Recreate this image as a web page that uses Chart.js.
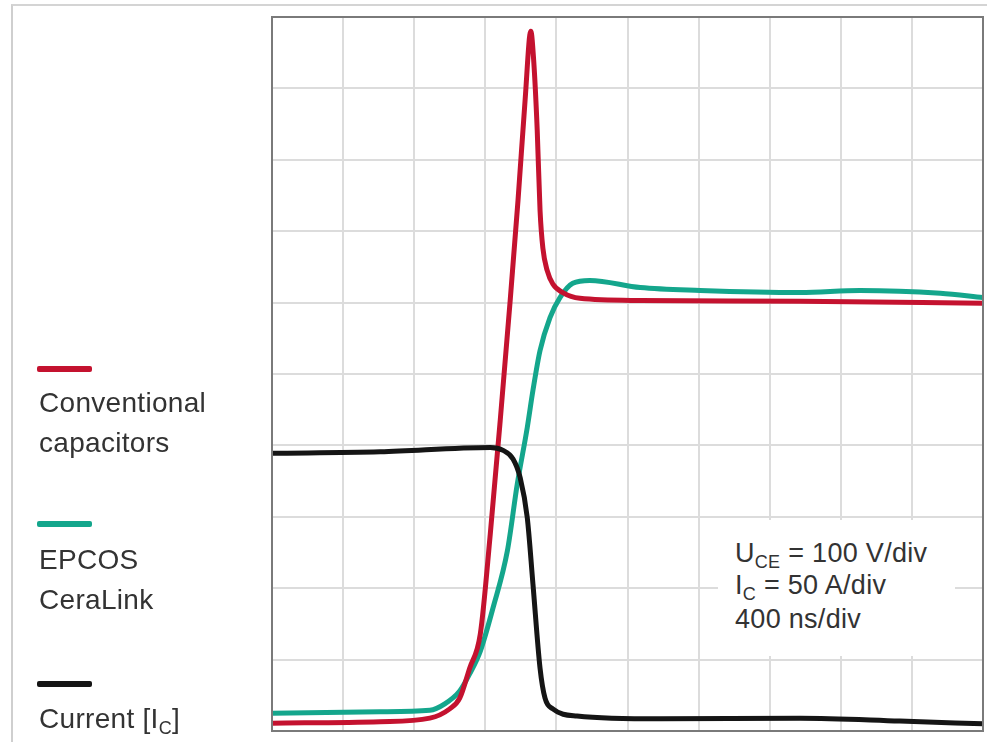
<!DOCTYPE html>
<html>
<head>
<meta charset="utf-8">
<script src="https://cdn.jsdelivr.net/npm/chart.js@4.4.0/dist/chart.umd.min.js"></script>
<style>
  html, body { margin: 0; padding: 0; background: #fff; }
  #wrap { position: relative; width: 987px; height: 742px; overflow: hidden;
          font-family: "Liberation Sans", Arial, sans-serif; color: #333; }
  #frame { position: absolute; left: 11px; top: 4px; width: 976px; height: 738px;
           border-top: 2px solid #d4d4d4; border-left: 2px solid #cfcfcf; }
  canvas { position: absolute; left: 0; top: 0; }
  .sw { position: absolute; left: 37px; width: 55px; height: 6px; border-radius: 2px; }
  .lbl { position: absolute; left: 39px; font-size: 28px; letter-spacing: 0.3px; line-height: 40px; white-space: nowrap; }
  #note { position: absolute; left: 718px; top: 520px; width: 237px; height: 136px; background: #fff; }
  #note div { position: absolute; left: 17px; font-size: 27px; letter-spacing: 0.3px; white-space: nowrap; line-height: 30px; }
  sub { font-size: 18px; vertical-align: -6px; line-height: 0; }
</style>
</head>
<body>
<div id="wrap">
  <div id="frame"></div>
  <canvas id="scope" width="987" height="742"></canvas>
  <div class="sw" style="top:366px;background:#c4122f"></div>
  <div class="lbl" style="top:383px">Conventional<br>capacitors</div>
  <div class="sw" style="top:521px;background:#14a68c"></div>
  <div class="lbl" style="top:540px">EPCOS<br>CeraLink</div>
  <div class="sw" style="top:681px;background:#151515"></div>
  <div class="lbl" style="top:699px">Current [I<sub>C</sub>]</div>
  <div id="note">
    <div style="top:18px">U<sub>CE</sub> = 100 V/div</div>
    <div style="top:50px">I<sub>C</sub> = 50 A/div</div>
    <div style="top:84px">400 ns/div</div>
  </div>
</div>
<script>
// one unit = one scope division (10 x 10 grid)
const redX = [0, 1.52, 2.22, 2.50, 2.64, 2.78, 2.93, 3.07, 3.21, 3.35, 3.46, 3.56, 3.64, 3.68, 3.73, 3.77, 3.81, 3.87, 3.95, 4.09, 4.33, 5.18, 7.43, 10];
const redY = [0.11, 0.13, 0.18, 0.31, 0.46, 0.88, 1.36, 2.76, 4.35, 6.03, 7.43, 8.84, 9.80, 9.40, 8.42, 7.29, 6.76, 6.45, 6.26, 6.14, 6.06, 6.03, 6.02, 5.99];

const tealX = [0, 1.52, 2.22, 2.43, 2.64, 2.78, 2.93, 3.11, 3.31, 3.45, 3.59, 3.67, 3.77, 3.91, 4.05, 4.23, 4.47, 5.18, 6.02, 7.43, 8.27, 9.40, 10];
const tealY = [0.25, 0.27, 0.29, 0.38, 0.56, 0.80, 1.12, 1.73, 2.52, 3.46, 4.25, 4.77, 5.33, 5.79, 6.07, 6.27, 6.31, 6.21, 6.17, 6.14, 6.17, 6.13, 6.07];

const curX = [0, 1.52, 3.07, 3.25, 3.39, 3.49, 3.59, 3.67, 3.77, 3.84, 3.95, 4.29, 5.46, 7.43, 8.83, 10];
const curY = [3.89, 3.91, 3.97, 3.93, 3.81, 3.55, 2.99, 2.06, 0.88, 0.46, 0.31, 0.21, 0.17, 0.18, 0.14, 0.10];

const seriesNames = ["Conventional capacitors", "EPCOS CeraLink", "Current [IC]"];
const seriesColors = ["#c4122f", "#14a68c", "#151515"];

function pts(xs, ys) {
    return xs.map((x, i) => ({x: x, y: ys[i]}));
}

const frameBox = {
    id: 'frameBox',
    afterDatasetsDraw(chart) {
        const a = chart.chartArea, c = chart.ctx;
        c.save();
        c.strokeStyle = '#7a7a7a';
        c.lineWidth = 2;
        c.strokeRect(a.left, a.top, a.right - a.left, a.bottom - a.top);
        c.restore();
    }
};

new Chart(document.getElementById("scope"), {
    type: 'line',
    data: {
        datasets: [
            {label: seriesNames[2], data: pts(curX, curY), borderColor: seriesColors[2]},
            {label: seriesNames[0], data: pts(redX, redY), borderColor: seriesColors[0]},
            {label: seriesNames[1], data: pts(tealX, tealY), borderColor: seriesColors[1]}
        ]
    },
    options: {
        responsive: false,
        animation: false,
        events: [],
        layout: { padding: {left: 272, top: 17, right: 4, bottom: 11} },
        elements: {
            line: { borderWidth: 5, cubicInterpolationMode: 'monotone', fill: false, borderCapStyle: 'round', borderJoinStyle: 'round' },
            point: { radius: 0 }
        },
        plugins: { legend: { display: false }, tooltip: { enabled: false } },
        scales: {
            x: {
                type: 'linear', min: 0, max: 10,
                ticks: { display: false, stepSize: 1 },
                grid: { color: '#dcdcdc', lineWidth: 2, drawTicks: false },
                border: { display: false }
            },
            y: {
                type: 'linear', min: 0, max: 10,
                ticks: { display: false, stepSize: 1 },
                grid: { color: '#dcdcdc', lineWidth: 2, drawTicks: false },
                border: { display: false }
            }
        }
    },
    plugins: [frameBox]
});
</script>
</body>
</html>
